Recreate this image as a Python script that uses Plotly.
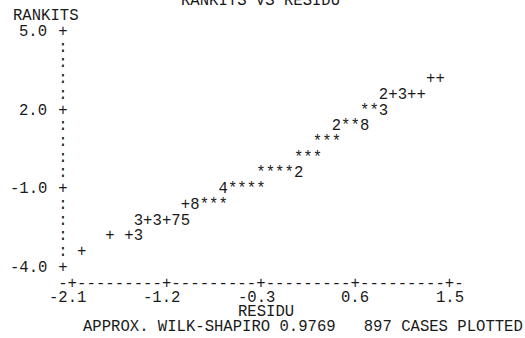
import plotly.graph_objects as go

# ---- data ----
title_text = "RANKITS VS RESIDU"
y_title = "RANKITS"
x_title = "RESIDU"
footer = "APPROX. WILK-SHAPIRO 0.9769   897 CASES PLOTTED"

x_ticks = [-2.1, -1.2, -0.3, 0.6, 1.5]
x_tick_labels = ["-2.1", "-1.2", "-0.3", "0.6", "1.5"]
y_ticks = [5.0, 2.0, -1.0, -4.0]
y_tick_labels = ["5.0", "2.0", "-1.0", "-4.0"]

# printed symbols (one per print position): residual, rankit, symbol
row_rankits = [3.2, 2.6, 2.0, 1.4, 0.8, 0.2, -0.4, -1.0, -1.6, -2.2, -2.8, -3.4]
row_residus = [
    [1.32, 1.41],
    [0.87, 0.96, 1.05, 1.14, 1.23],
    [0.69, 0.78, 0.87],
    [0.42, 0.51, 0.60, 0.69],
    [0.24, 0.33, 0.42],
    [0.06, 0.15, 0.24],
    [-0.30, -0.21, -0.12, -0.03, 0.06],
    [-0.66, -0.57, -0.48, -0.39, -0.30],
    [-1.02, -0.93, -0.84, -0.75, -0.66],
    [-1.47, -1.38, -1.29, -1.20, -1.11, -1.02],
    [-1.74, -1.56, -1.47],
    [-2.01],
]
row_symbols = [
    ["+", "+"],
    ["2", "+", "3", "+", "+"],
    ["*", "*", "3"],
    ["2", "*", "*", "8"],
    ["*", "*", "*"],
    ["*", "*", "*"],
    ["*", "*", "*", "*", "2"],
    ["4", "*", "*", "*", "*"],
    ["+", "8", "*", "*", "*"],
    ["3", "+", "3", "+", "7", "5"],
    ["+", "+", "3"],
    ["+"],
]

# ---- styling / layout ----
FONT = "Liberation Mono, DejaVu Sans Mono, monospace"
FS = 15.6
INK = "#1a1a1a"
W, H = 525, 338
COL = 0.09            # residual units per print column
ROW = 0.6             # rankit units per print line
X_RANGE = [-2.79, 2.2206]
Y_RANGE = [-6.67, 6.22]

xs, ys, ts = [], [], []
for yv, xr, sy in zip(row_rankits, row_residus, row_symbols):
    for xv, s in zip(xr, sy):
        xs.append(xv)
        ys.append(yv)
        ts.append(s)

fig = go.Figure()
fig.add_trace(go.Scatter(
    x=xs, y=ys, text=ts, mode="text", textposition="middle center",
    textfont=dict(family=FONT, size=FS, color=INK), hoverinfo="skip",
    showlegend=False))

# vertical axis drawn as printer characters
x_axis_col = x_ticks[0] - COL
ax_x, ax_y, ax_t = [], [], []
for i, tv in enumerate(y_ticks):
    ax_x.append(x_axis_col); ax_y.append(tv); ax_t.append("+")
    if i < len(y_ticks) - 1:
        k = 1
        while tv - k * ROW > y_ticks[i + 1] + 1e-9:
            ax_x.append(x_axis_col); ax_y.append(tv - k * ROW); ax_t.append(":")
            k += 1

# horizontal axis line of dashes and '+' ticks
y_axis_row = y_ticks[-1] - 0.62
ncols = int(round((x_ticks[-1] - x_ticks[0]) / COL)) + 3
for c in range(ncols):
    xv = x_axis_col + c * COL
    is_tick = any(abs(xv - t) < 1e-6 for t in x_ticks)
    ax_x.append(xv); ax_y.append(y_axis_row); ax_t.append("+" if is_tick else "-")

fig.add_trace(go.Scatter(
    x=ax_x, y=ax_y, text=ax_t, mode="text", textposition="middle center",
    textfont=dict(family=FONT, size=FS, color=INK), hoverinfo="skip",
    showlegend=False))

ann = []
def A(x, y, text, xanchor="center", xshift=0):
    ann.append(dict(x=x, y=y, xref="x", yref="y", text=text, showarrow=False,
                    xanchor=xanchor, yanchor="middle", xshift=xshift,
                    font=dict(family=FONT, size=FS, color=INK)))

for tv, tl in zip(x_ticks, x_tick_labels):
    # decimal point sits under the tick
    shift = -4.7 if len(tl) == 4 else 0
    A(tv, y_ticks[-1] - 1.16, tl, xshift=shift)
for tv, tl in zip(y_ticks, y_tick_labels):
    A(x_axis_col - 1.5 * COL, tv, tl, xanchor="right")

A(x_axis_col - 5.5 * COL, y_ticks[0] + ROW, y_title, xanchor="left")
A((x_ticks[0] + x_ticks[-1]) / 2, y_ticks[0] + 2 * ROW, title_text)
A((x_ticks[0] + x_ticks[-1]) / 2 + 0.5 * COL, y_ticks[-1] - 1.69, x_title)
A(x_axis_col + 1.9 * COL, y_ticks[-1] - 2.24, footer, xanchor="left")

fig.update_layout(
    width=W, height=H, margin=dict(l=0, r=0, t=0, b=0),
    paper_bgcolor="white", plot_bgcolor="white",
    xaxis=dict(range=X_RANGE, visible=False, fixedrange=True),
    yaxis=dict(range=Y_RANGE, visible=False, fixedrange=True),
    annotations=ann,
)
fig.write_html("out.html")
